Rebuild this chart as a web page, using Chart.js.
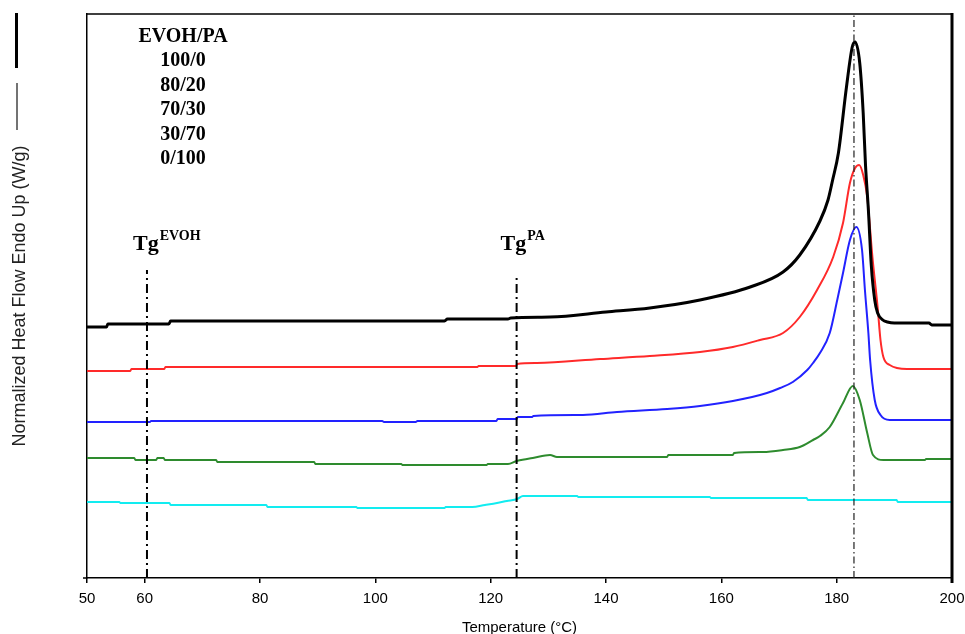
<!DOCTYPE html>
<html>
<head>
<meta charset="utf-8">
<script src="https://cdn.jsdelivr.net/npm/chart.js@4.4.0/dist/chart.umd.min.js"></script>
<style>
  html, body { margin: 0; padding: 0; background: #fff; }
  #wrap { width: 965px; height: 634px; }
</style>
</head>
<body>
<div id="wrap"><canvas id="dsc" width="965" height="634"></canvas></div>
<script>
/* DSC heating scans of EVOH/PA blends, curves shifted vertically (arbitrary units) */

const SANS  = "'Liberation Sans', Arial, sans-serif";
const SERIF = "'Liberation Serif', 'Times New Roman', serif";

const X_TICKS = [50, 60, 80, 100, 120, 140, 160, 180, 200];
const BLENDS  = ['100/0', '80/20', '70/30', '30/70', '0/100'];
const COLORS  = ['#000000', '#ff2a2a', '#2222ff', '#2e8b2e', '#12ecf0'];
const WIDTHS  = [3, 2, 2, 2, 2];

// [temperature °C, heat flow]
const evoh100 = [
  [50,25.1],[53.4,25.1],[53.6,25.4],[64.2,25.4],[64.5,25.7],[112,25.7],[112.5,25.9],
  [123,25.9],[123.5,26.0],[130.3,26.1],[140,26.6],[147.6,27.0],[156.3,27.8],[165,29.1],
  [170.7,30.6],[173.6,32.3],[177.1,35.7],[178.5,37.8],[179.3,39.8],[180.3,42.5],
  [181.7,49.1],[182.7,53.1],[183.2,53.6],[184.0,51.5],[184.6,46.5],[185.0,41.3],
  [185.5,36.8],[186.0,31.3],[186.6,27.8],[187.1,26.5],[188.0,25.8],[188.8,25.6],
  [190,25.5],[196,25.5],[196.5,25.3],[200,25.3],
];
const evoh80 = [
  [50,20.7],[57.5,20.7],[57.7,20.9],[63.4,20.9],[63.6,21.1],[117.7,21.1],[117.9,21.2],
  [124.4,21.2],[124.6,21.4],[128,21.5],[139,21.9],[147.6,22.2],[156.3,22.6],[162,23.1],
  [166.7,23.8],[170.7,24.5],[173.6,26.1],[176.6,28.8],[179.4,32.1],[181.1,35.5],
  [182.3,39.5],[183.2,41.0],[183.9,41.3],[184.6,40.3],[185.3,38.1],[186.2,32.1],
  [187.1,27.1],[187.6,23.8],[188.1,22.1],[189.2,21.3],[192.2,20.9],[200,20.9],
];
const evoh70 = [
  [50,15.6],[60.9,15.6],[61.1,15.7],[101.2,15.7],[101.5,15.6],[107,15.6],[107.3,15.7],
  [121,15.7],[121.2,15.9],[124.5,15.9],[124.7,16.1],[127.2,16.1],[127.4,16.2],[136,16.3],
  [141.9,16.6],[150.6,16.9],[156.3,17.2],[162,17.7],[167.9,18.5],[170.2,19.0],
  [172.4,19.6],[174.9,20.8],[175.9,21.5],[177.1,22.5],[178.8,24.5],[180.1,27.8],
  [181.1,30.5],[182.3,33.8],[183.4,35.1],[184.4,32.8],[184.9,28.8],[185.5,24.5],
  [185.8,21.8],[186.6,17.8],[187.6,16.3],[189.2,15.8],[200,15.8],
];
const evoh30 = [
  [50,12.0],[58.2,12.0],[58.4,11.8],[62,11.8],[62.2,12.0],[63.3,12.0],[63.5,11.8],
  [72.4,11.8],[72.6,11.6],[89.4,11.6],[89.6,11.4],[104.5,11.4],[104.7,11.3],[119.3,11.3],
  [119.5,11.4],[123,11.4],[124.5,11.7],[126.3,11.9],[127.3,12.0],[130.3,12.3],[131.5,12.1],
  [150.6,12.1],[150.8,12.3],[162,12.3],[162.2,12.5],[167.2,12.6],[170.7,12.8],[173.6,13.1],
  [175.9,13.8],[177.1,14.2],[178.8,15.1],[181.1,17.5],[182.8,19.2],[184.0,17.8],
  [185.3,14.5],[186.3,12.3],[188.1,11.8],[195.3,11.8],[195.5,11.9],[200,11.9],
];
const evoh0 = [
  [50,7.6],[55.6,7.6],[55.8,7.5],[64.3,7.5],[64.5,7.3],[81.1,7.3],[81.3,7.1],[96.7,7.1],
  [96.9,7.0],[112,7.0],[112.2,7.1],[116.8,7.1],[119,7.3],[121.1,7.5],[122.8,7.7],
  [124.6,7.9],[125.6,8.2],[135,8.2],[135.2,8.1],[158,8.1],[158.2,8.0],[174.8,8.0],
  [175,7.8],[190.4,7.8],[190.6,7.6],[200,7.6],
];
const SERIES = [evoh100, evoh80, evoh70, evoh30, evoh0];

// glass transitions and melting peak (°C), top of each marker line
const TG_TEMPS  = [60.4, 124.5];
const TG_TOPS   = [30.8, 30.3];
const TG_NAMES  = ['EVOH', 'PA'];
const PEAK_TEMP = 183;
const Y_MAX     = 56.4;

const markerSets = [
  ...TG_TEMPS.map((t, i) => ({
    data: [{ x: t, y: 0 }, { x: t, y: TG_TOPS[i] }],
    borderColor: '#000', borderWidth: 2, borderDash: [9, 4, 2, 4],
  })),
  {
    data: [{ x: PEAK_TEMP, y: 0 }, { x: PEAK_TEMP, y: Y_MAX }],
    borderColor: '#222', borderWidth: 1.2, borderDash: [7, 3, 1.5, 3],
  },
];

const curveSets = SERIES.map((s, i) => ({
  label: BLENDS[i],
  data: s.map(p => ({ x: p[0], y: p[1] })),
  borderColor: COLORS[i],
  borderWidth: WIDTHS[i],
  cubicInterpolationMode: 'monotone',
}));

// plot box edges, composition list, Tg labels
const frame = {
  id: 'frame',
  afterDraw(chart) {
    const { ctx, chartArea: a, scales: { x } } = chart;
    ctx.save();
    ctx.strokeStyle = '#000';
    ctx.lineWidth = 1.5;
    ctx.beginPath();
    ctx.moveTo(a.left, a.top); ctx.lineTo(a.right, a.top);
    ctx.moveTo(a.left - 4, a.bottom); ctx.lineTo(a.left, a.bottom);
    ctx.stroke();
    ctx.lineWidth = 3;
    ctx.beginPath();
    ctx.moveTo(a.right, a.top - 1); ctx.lineTo(a.right, a.bottom + 5);
    ctx.stroke();

    // stray line samples at the far left
    ctx.beginPath(); ctx.moveTo(16.5, 13); ctx.lineTo(16.5, 68); ctx.stroke();
    ctx.lineWidth = 1.5; ctx.strokeStyle = '#444';
    ctx.beginPath(); ctx.moveTo(17, 83); ctx.lineTo(17, 130); ctx.stroke();

    ctx.fillStyle = '#000';
    ctx.textBaseline = 'alphabetic';
    ctx.textAlign = 'center';
    ctx.font = 'bold 20px ' + SERIF;
    ['EVOH/PA', ...BLENDS].forEach((t, i) => ctx.fillText(t, 183, 42 + i * 24.4));

    ctx.textAlign = 'left';
    const shift = [14, 16];
    TG_TEMPS.forEach((t, i) => {
      const px = x.getPixelForValue(t) - shift[i];
      ctx.font = 'bold 22px ' + SERIF;
      ctx.fillText('Tg', px, 250);
      const w = ctx.measureText('Tg').width;
      ctx.font = 'bold 14px ' + SERIF;
      ctx.fillText(TG_NAMES[i], px + w + 1, 240);
    });
    ctx.restore();
  },
};

new Chart(document.getElementById('dsc'), {
  type: 'line',
  data: { datasets: [...markerSets, ...curveSets] },
  options: {
    responsive: false,
    animation: false,
    devicePixelRatio: 1,
    layout: { padding: { top: 14, right: 13, left: 0, bottom: 0 } },
    plugins: { legend: { display: false }, tooltip: { enabled: false } },
    elements: { point: { radius: 0 }, line: { tension: 0 } },
    scales: {
      x: {
        type: 'linear', min: 50, max: 200,
        afterBuildTicks: s => { s.ticks = X_TICKS.map(v => ({ value: v })); },
        afterFit: s => { s.height = 56; s.paddingLeft = 0; s.paddingRight = 0; },
        grid: { display: true, drawOnChartArea: false, drawTicks: true, tickLength: 5, color: '#000', lineWidth: 1.5 },
        border: { display: true, color: '#000', width: 1.5 },
        ticks: { color: '#000', font: { family: SANS, size: 15 }, padding: 7, maxRotation: 0, autoSkip: false },
        title: {
          display: true, text: 'Temperature (°C)', color: '#000',
          font: { family: SANS, size: 15 }, padding: { top: 0, bottom: -3 },
        },
      },
      y: {
        min: 0, max: Y_MAX,
        afterFit: s => { s.width = 87; s.paddingTop = 0; s.paddingBottom = 0; },
        grid: { display: false },
        border: { display: true, color: '#000', width: 1.5 },
        ticks: { display: false },
        title: {
          display: true, text: 'Normalized Heat Flow Endo Up (W/g)', color: '#222',
          font: { family: SANS, size: 18 }, padding: { top: 9, bottom: 0 },
        },
      },
    },
  },
  plugins: [frame],
});
</script>
</body>
</html>
